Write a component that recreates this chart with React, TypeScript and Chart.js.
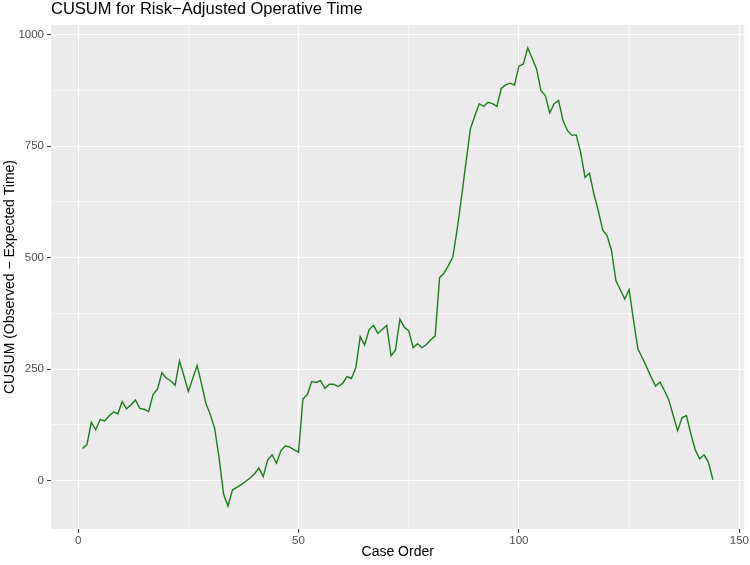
import React, { useEffect, useRef } from "react";
import { Chart, registerables } from "chart.js";

Chart.register(...registerables);

const titleText = "CUSUM for Risk\u2212Adjusted Operative Time";
const xTitle = "Case Order";
const yTitle = "CUSUM (Observed \u2212 Expected Time)";

const caseOrder = [
  1, 2, 3, 4, 5, 6, 7, 8, 9, 10, 11, 12, 13, 14, 15, 16, 17, 18, 19, 20,
  21, 22, 23, 24, 25, 26, 27, 28, 29, 30, 31, 32, 33, 34, 35, 36, 37, 38, 39, 40,
  41, 42, 43, 44, 45, 46, 47, 48, 49, 50, 51, 52, 53, 54, 55, 56, 57, 58, 59, 60,
  61, 62, 63, 64, 65, 66, 67, 68, 69, 70, 71, 72, 73, 74, 75, 76, 77, 78, 79, 80,
  81, 82, 83, 84, 85, 86, 87, 88, 89, 90, 91, 92, 93, 94, 95, 96, 97, 98, 99, 100,
  101, 102, 103, 104, 105, 106, 107, 108, 109, 110, 111, 112, 113, 114, 115, 116, 117, 118, 119, 120,
  121, 122, 123, 124, 125, 126, 127, 128, 129, 130, 131, 132, 133, 134, 135, 136, 137, 138, 139, 140,
  141, 142, 143, 144,
];

const cusum = [
  72, 81, 131, 114, 137, 134, 145, 154, 150, 177, 161, 170, 181, 162, 160, 155, 193, 205, 242, 230,
  224, 214, 268, 235, 200, 229, 258, 217, 173, 148, 116, 50, -30, -57, -21, -15, -9, -2, 6, 15,
  28, 9, 46, 58, 39, 67, 78, 75, 69, 64, 183, 193, 222, 220, 224, 207, 216, 216, 211, 218,
  233, 229, 253, 323, 304, 338, 348, 330, 339, 348, 280, 293, 362, 344, 336, 298, 307, 298, 305, 316,
  324, 455, 465, 482, 501, 564, 637, 714, 789, 818, 845, 839, 848, 845, 839, 879, 887, 891, 887, 929,
  934, 970, 947, 923, 874, 863, 824, 845, 852, 807, 785, 774, 775, 736, 680, 689, 643, 605, 562, 549,
  516, 448, 428, 407, 428, 359, 295, 275, 254, 232, 212, 221, 202, 181, 146, 112, 141, 146, 105, 69,
  49, 58, 41, 2,
];

const xTicks = [0, 25, 50, 75, 100, 125, 150];
const xMajor = [0, 50, 100, 150];
const yTicks = [0, 125, 250, 375, 500, 625, 750, 875, 1000];
const yMajor = [0, 250, 500, 750, 1000];

const FONT = "'Liberation Sans', Arial, Helvetica, sans-serif";

export default function App() {
  const ref = useRef<HTMLCanvasElement>(null);

  useEffect(() => {
    document.body.style.margin = "0";
    const canvas = ref.current;
    if (!canvas) return;

    const xMinD = Math.min(...caseOrder);
    const xMaxD = Math.max(...caseOrder);
    const yMinD = Math.min(...cusum);
    const yMaxD = Math.max(...cusum);
    const xPad = (xMaxD - xMinD) * 0.05;
    const yPad = (yMaxD - yMinD) * 0.05;

    const panelBg = {
      id: "panelBg",
      beforeDraw(chart: any) {
        const { ctx, chartArea } = chart;
        if (!chartArea) return;
        ctx.save();
        ctx.fillStyle = "#EBEBEB";
        ctx.fillRect(chartArea.left, chartArea.top, chartArea.width, chartArea.height);
        ctx.restore();
      },
    };

    const gridFor = (major: number[]) => ({
      color: "#FFFFFF",
      lineWidth: (c: any) => (c.tick && major.includes(c.tick.value) ? 1.1 : 0.55),
      tickColor: (c: any) => (c.tick && major.includes(c.tick.value) ? "#333333" : "rgba(0,0,0,0)"),
      tickWidth: 1,
      tickLength: 4,
      drawTicks: true,
    });

    const chart = new Chart(canvas, {
      type: "line",
      data: {
        datasets: [
          {
            data: caseOrder.map((x, i) => ({ x, y: cusum[i] })),
            borderColor: "#1C7C1C",
            borderWidth: 1.4,
            pointRadius: 0,
            tension: 0,
            fill: false,
          },
        ],
      },
      options: {
        animation: false,
        responsive: false,
        layout: { padding: { left: 0, right: 5.6, top: 0, bottom: 0 } },
        plugins: {
          legend: { display: false },
          tooltip: { enabled: false },
          title: {
            display: true,
            text: titleText,
            align: "start",
            fullSize: false,
            color: "#000000",
            font: { family: FONT, size: 16.5, weight: "normal", lineHeight: 1.2 },
            padding: { top: 0, bottom: 25 - 16.5 * 1.2 },
          },
        },
        scales: {
          x: {
            type: "linear",
            min: xMinD - xPad,
            max: xMaxD + xPad,
            afterBuildTicks: (s: any) => {
              s.ticks = xTicks.map((v) => ({ value: v }));
            },
            afterFit: (s: any) => {
              s.height = 36;
            },
            grid: gridFor(xMajor),
            border: { display: false },
            ticks: {
              autoSkip: false,
              maxRotation: 0,
              padding: 1,
              color: "#4D4D4D",
              font: { family: FONT, size: 11.5 },
              callback: (v: any) => (xMajor.includes(Number(v)) ? String(v) : ""),
            },
            title: {
              display: true,
              text: xTitle,
              color: "#000000",
              font: { family: FONT, size: 14 },
              padding: { top: 0, bottom: 4 },
            },
          },
          y: {
            type: "linear",
            min: yMinD - yPad,
            max: yMaxD + yPad,
            afterBuildTicks: (s: any) => {
              s.ticks = yTicks.map((v) => ({ value: v }));
            },
            afterFit: (s: any) => {
              s.width = 51;
            },
            grid: gridFor(yMajor),
            border: { display: false },
            ticks: {
              autoSkip: false,
              padding: 3,
              color: "#4D4D4D",
              font: { family: FONT, size: 11.5 },
              callback: (v: any) => (yMajor.includes(Number(v)) ? String(v) : ""),
            },
            title: {
              display: true,
              text: yTitle,
              color: "#000000",
              font: { family: FONT, size: 14 },
              padding: { top: 1.6, bottom: 0 },
            },
          },
        },
      },
      plugins: [panelBg],
    } as any);

    return () => chart.destroy();
  }, []);

  return <canvas ref={ref} width={750} height={565} style={{ display: "block" }} />;
}
